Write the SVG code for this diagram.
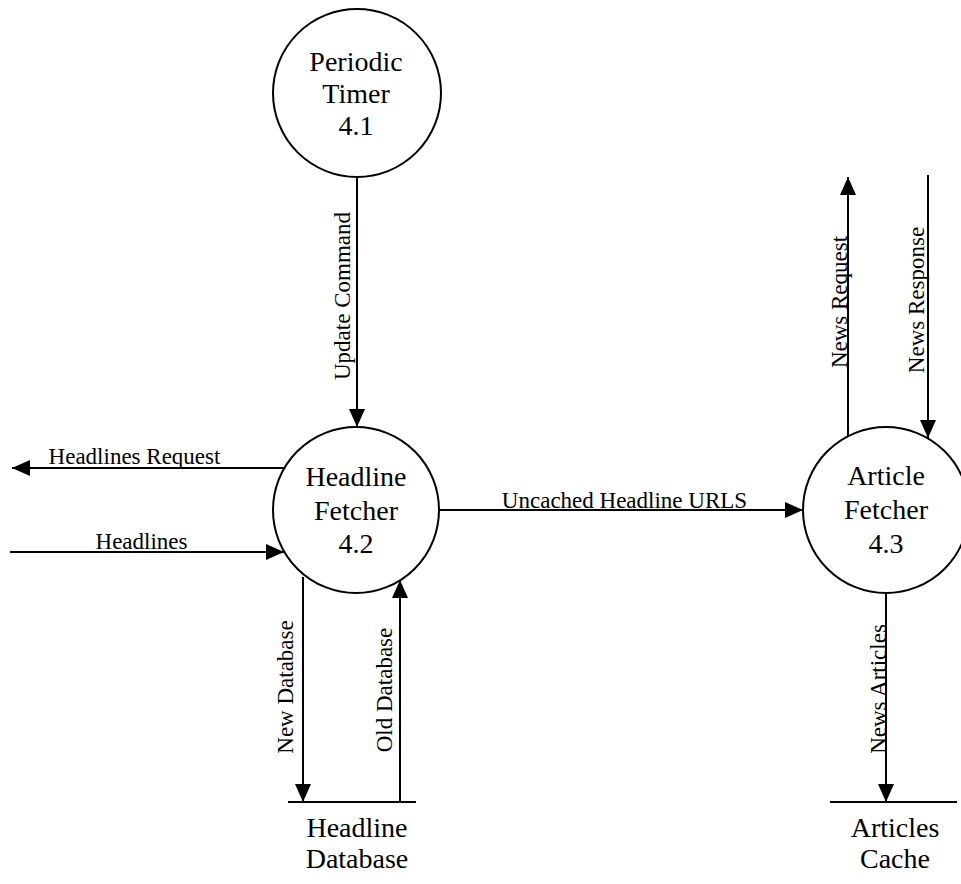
<svg xmlns="http://www.w3.org/2000/svg" width="961" height="884" viewBox="0 0 961 884">
  <defs>
    <marker id="arrow" markerUnits="userSpaceOnUse" markerWidth="18" markerHeight="18" refX="18" refY="8" orient="auto">
      <path d="M0,0 L18,8 L0,16 Z" fill="#000"/>
    </marker>
    <style>
      .proc { fill: #fff; stroke: #000; stroke-width: 2; }
      .flow { fill: none; stroke: #000; stroke-width: 2; marker-end: url(#arrow); }
      .store { stroke: #000; stroke-width: 2; }
      .name { font-family: "Liberation Serif", "Times New Roman", serif; font-size: 28px; text-anchor: middle; fill: #000; }
      .lbl { font-family: "Liberation Serif", "Times New Roman", serif; font-size: 23px; text-anchor: middle; fill: #000; }
    </style>
  </defs>
  <rect width="961" height="884" fill="#fff"/>

  <!-- data flows -->
  <g id="connectors">
    <line class="flow" x1="357" y1="177" x2="357" y2="427"/>
    <line class="flow" x1="284" y1="468" x2="12" y2="468"/>
    <line class="flow" x1="10" y1="552" x2="284" y2="552"/>
    <line class="flow" x1="440" y1="510" x2="803" y2="510"/>
    <line class="flow" x1="848" y1="436" x2="848" y2="177"/>
    <line class="flow" x1="928" y1="175" x2="928" y2="438"/>
    <line class="flow" x1="886" y1="593" x2="886" y2="802"/>
    <line class="flow" x1="303" y1="577" x2="303" y2="802"/>
    <line class="flow" x1="400" y1="802" x2="400" y2="580"/>

    <text class="lbl" transform="translate(350,296) rotate(-90)">Update Command</text>
    <text class="lbl" x="134.5" y="464">Headlines Request</text>
    <text class="lbl" x="141.5" y="549">Headlines</text>
    <text class="lbl" x="624.5" y="508">Uncached Headline URLS</text>
    <text class="lbl" transform="translate(847,302) rotate(-90)">News Request</text>
    <text class="lbl" transform="translate(924,300) rotate(-90)">News Response</text>
    <text class="lbl" transform="translate(293,687) rotate(-90)">New Database</text>
    <text class="lbl" transform="translate(392,690) rotate(-90)">Old Database</text>
    <text class="lbl" transform="translate(886,689) rotate(-90)">News Articles</text>
  </g>

  <!-- processes -->
  <g id="periodic-timer">
    <circle class="proc" cx="357" cy="93" r="84"/>
    <text class="name" x="356" y="71">Periodic</text>
    <text class="name" x="356" y="103">Timer</text>
    <text class="name" x="356" y="135">4.1</text>
  </g>

  <g id="headline-fetcher">
    <circle class="proc" cx="356" cy="510" r="83"/>
    <text class="name" x="356" y="486">Headline</text>
    <text class="name" x="356" y="520">Fetcher</text>
    <text class="name" x="356" y="553">4.2</text>
  </g>

  <g id="article-fetcher">
    <circle class="proc" cx="886" cy="510" r="83"/>
    <text class="name" x="886" y="485">Article</text>
    <text class="name" x="886" y="519">Fetcher</text>
    <text class="name" x="886" y="553">4.3</text>
  </g>

  <!-- data stores -->
  <g id="headline-database">
    <line class="store" x1="288" y1="802" x2="416" y2="802"/>
    <text class="name" x="357" y="837">Headline</text>
    <text class="name" x="357" y="868">Database</text>
  </g>

  <g id="articles-cache">
    <line class="store" x1="830" y1="802" x2="957" y2="802"/>
    <text class="name" x="895" y="837">Articles</text>
    <text class="name" x="895" y="868">Cache</text>
  </g>
</svg>
